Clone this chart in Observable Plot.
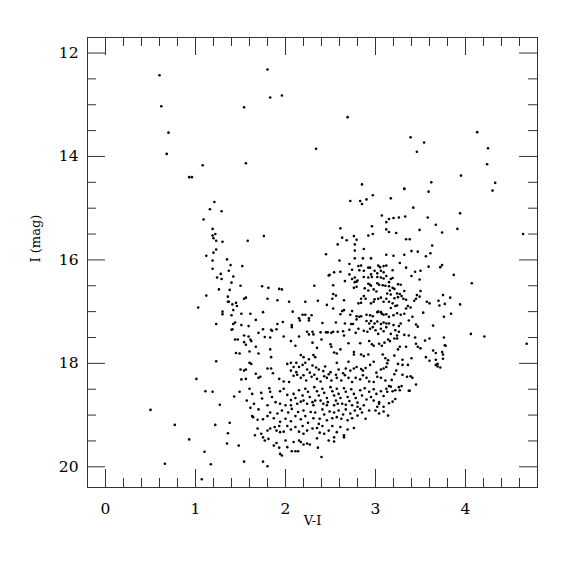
<!DOCTYPE html>
<html><head><meta charset="utf-8">
<script src="https://cdn.jsdelivr.net/npm/d3@7"></script>
<script src="https://cdn.jsdelivr.net/npm/@observablehq/plot@0.6"></script>
<style>body{margin:0;background:#fff}</style>
</head><body><div id="chart"></div>
<script>
// [V-I, I] pairs
const brightStars = [
[0.60,12.43],[0.62,13.03],[0.70,13.54],[0.68,13.95],[1.08,14.17],[0.93,14.40],[0.96,14.40],
[1.80,12.32],[1.83,12.86],[1.96,12.82],[1.54,13.05],[2.69,13.24],[2.34,13.85],[1.56,14.13],[2.85,14.54],
[3.39,13.63],[3.54,13.73],[3.46,13.91],[4.13,13.53],[4.25,13.84],[4.24,14.15],[3.95,14.37],[3.62,14.50],[4.33,14.51],[3.32,14.62]
];
const bluePlume = [
[1.21,14.88],[1.16,15.02],[1.29,15.06],[1.09,15.22],[1.19,15.40],[1.19,15.53],[1.22,15.50],[1.20,15.58],[1.23,15.63],[1.30,15.65],
[1.23,15.80],[1.20,15.86],[1.12,15.92],[1.19,16.01],[1.35,15.99],[1.39,16.10],[1.19,16.17],[1.37,16.21],[1.28,16.27],[1.42,16.32],
[1.24,16.34],[1.29,16.37],[1.40,16.44],[1.26,16.57],[1.38,16.58],[1.12,16.69],[1.36,16.71],[1.36,16.81],[1.37,16.81],[1.45,16.83],
[1.41,16.86],[1.03,16.92],[1.42,16.97],[1.30,17.00],[1.30,17.05],[1.40,17.07],[1.23,17.24],[1.42,17.24],[1.44,17.21],[1.40,17.35],[1.41,17.34],
[1.44,17.54],[1.45,17.80],[1.23,17.96],[1.01,18.30],[1.11,18.54],[1.19,18.55],[1.43,18.64],[1.27,18.80],[0.50,18.90],[0.77,19.19],
[1.22,19.19],[1.38,19.15],[1.36,19.35],[0.93,19.47],[1.35,19.55],[1.10,19.71],[0.66,19.94],[1.17,19.95],[1.07,20.24]
];
const giantStars = [
[2.97,14.75],[2.90,14.83],[2.72,14.86],[2.83,14.86],[2.85,14.92],[3.07,15.14],[3.12,15.27],[2.96,15.35],[3.12,15.41],[2.61,15.39],
[2.97,15.50],[2.92,15.53],[1.76,15.54],[1.58,15.63],[2.63,15.57],[2.76,15.54],[2.79,15.61],[2.68,15.62],[2.77,15.70],[2.58,15.70],
[2.77,15.82],[2.45,15.89],[2.87,15.79],[3.12,15.90],[2.60,16.01],[2.86,15.97],[2.95,15.97],[2.77,15.97],[2.71,16.08],[1.52,16.12],
[2.81,16.12],[2.84,16.11],[2.92,16.15],[2.94,16.15],[3.03,16.11],[3.05,16.14],[3.09,16.12],[3.12,16.11],[2.61,16.23],[2.74,16.19],
[2.82,16.20],[2.87,16.21],[2.99,16.21],[3.02,16.26],[3.06,16.21],[3.09,16.24],[2.48,16.30],[2.49,16.29],[2.54,16.24],[2.71,16.28],
[2.77,16.34],[2.74,16.37],[2.80,16.40],[2.77,16.43],[2.79,16.42],[2.87,16.33],[2.92,16.34],[2.95,16.28],[2.96,16.33],[3.02,16.33],
[3.06,16.34],[3.09,16.36],[3.12,16.31],[2.66,16.41],[2.53,16.49],[2.92,16.46],[2.94,16.48],[2.95,16.50],[3.02,16.45],[3.04,16.48],
[3.08,16.49],[3.11,16.50],[1.50,16.50],[1.74,16.51],[1.81,16.54],[1.93,16.56],[1.96,16.57],[2.32,16.50],[2.76,16.54],[2.79,16.52],
[2.88,16.55],[2.92,16.59],[2.98,16.57],[3.01,16.61],[2.53,16.66],[2.56,16.69],[1.56,16.73],[1.54,16.75],[1.80,16.75],[1.91,16.78],
[2.04,16.81],[2.22,16.81],[2.36,16.79],[2.52,16.75],[2.65,16.78],[2.84,16.75],[2.87,16.70],[2.89,16.75],[2.81,16.84],[2.84,16.83],
[2.95,16.84],[2.98,16.81],[2.99,16.76],[3.03,16.75],[3.06,16.73],[3.09,16.81],[3.12,16.75],[2.46,16.87],[1.46,16.89],[2.53,16.94],
[2.08,17.00],[2.63,16.99],[2.65,16.97],[2.74,16.99],[1.51,17.04],[1.61,17.04],[1.75,17.01],[2.19,17.06],[2.22,17.06],[2.29,17.07],
[2.61,17.05],[2.72,17.06],[2.79,17.09],[2.84,17.09],[2.90,17.06],[2.94,17.07],[2.97,17.09],[3.02,17.01],[3.03,17.00],[3.06,17.01],
[3.07,17.04],[3.09,17.06],[3.12,17.05],[1.67,17.16],[2.15,17.13],[2.16,17.17],[2.26,17.13],[2.26,17.17],[2.41,17.22],[2.56,17.21],
[2.66,17.23],[2.73,17.24],[2.75,17.24],[2.79,17.15],[2.82,17.10],[2.90,17.18],[2.93,17.23],[2.95,17.18],[2.99,17.23],[3.02,17.19],
[3.06,17.24],[3.09,17.21],[3.12,17.23],[1.51,17.26],[1.59,17.28],[1.91,17.24],[1.97,17.20],[1.75,17.34],[1.70,17.41],[1.84,17.35],
[1.85,17.37],[1.90,17.34],[2.07,17.26],[2.07,17.30],[2.24,17.39],[2.26,17.44],[2.30,17.39],[2.31,17.44],[2.39,17.40],[2.45,17.40],
[2.47,17.40],[2.51,17.41],[2.53,17.39],[2.58,17.39],[2.64,17.38],[2.65,17.46],[2.71,17.35],[2.78,17.41],[2.81,17.33],[2.87,17.37],
[2.91,17.39],[2.94,17.33],[2.97,17.30],[3.00,17.36],[3.03,17.43],[3.06,17.33],[3.09,17.38],[3.12,17.30],[1.54,17.46],[1.59,17.48],
[1.77,17.49],[1.83,17.50],[1.98,17.48],[2.15,17.48]
];
const redStars = [
[3.32,14.63],[3.59,14.68],[4.30,14.66],[3.17,14.81],[3.42,14.99],[3.94,15.10],[3.15,15.21],[3.20,15.19],[3.26,15.18],[3.33,15.16],
[3.58,15.18],[3.67,15.32],[3.49,15.42],[3.91,15.40],[3.74,15.47],[3.15,15.46],[3.23,15.48],[4.64,15.50],[3.34,15.60],[3.38,15.60],
[3.63,15.72],[3.40,15.83],[3.47,15.84],[3.61,15.87],[3.20,15.92],[3.32,15.90],[3.56,15.93],[3.27,16.06],[3.74,16.10],[3.72,16.14],
[3.34,16.15],[3.59,16.13],[3.19,16.20],[3.44,16.23],[3.50,16.21],[3.40,16.31],[3.87,16.29],[3.19,16.35],[3.17,16.37],[3.15,16.43],
[3.49,16.38],[4.07,16.45],[3.25,16.47],[3.28,16.48],[3.15,16.51],[3.19,16.54],[3.21,16.56],[3.16,16.59],[3.32,16.60],[3.50,16.60],
[3.13,16.65],[3.17,16.67],[3.24,16.65],[3.27,16.66],[3.25,16.72],[3.21,16.74],[3.29,16.70],[3.31,16.75],[3.46,16.68],[3.49,16.71],
[3.45,16.75],[3.75,16.68],[3.83,16.73],[3.70,16.79],[3.71,16.88],[3.77,16.85],[3.94,16.86],[3.57,16.81],[3.60,16.84],[3.36,16.89],
[3.39,16.92],[3.34,16.94],[3.43,16.79],[3.34,16.77],[3.15,16.81],[3.19,16.84],[3.22,16.89],[3.17,16.93],[3.24,16.88],[3.53,17.02],
[3.84,17.04],[3.76,17.10],[3.41,17.10],[3.37,17.17],[3.32,17.04],[3.28,17.06],[3.24,17.03],[3.20,17.07],[3.15,17.10],[3.64,17.27],
[3.45,17.25],[3.47,17.29],[4.06,17.43],[4.21,17.48],[3.76,17.50],[3.44,17.50],[3.15,17.23],[3.20,17.26],[3.26,17.28],[3.28,17.23],
[3.22,17.36],[3.26,17.39],[3.17,17.43],[3.24,17.46],[3.32,17.45],[3.37,17.46],
[4.68,17.62],[3.14,17.54],[3.16,17.57],[3.21,17.52],[3.24,17.52],[3.27,17.68],[3.34,17.68],[3.55,17.56],[3.60,17.52],[3.45,17.62],
[3.47,17.68],[3.50,17.71],[3.25,17.73],[3.64,17.75],[3.77,17.65],[3.78,17.66],[3.67,17.80],[3.74,17.78],[3.75,17.83],[3.75,17.91],
[3.21,17.85],[3.14,17.94],[3.13,18.00],[3.30,17.93],[3.40,17.90],[3.56,17.88],[3.60,17.95],[3.67,17.93],[3.69,18.01],[3.67,18.03],
[3.72,18.08],[3.69,18.06],[3.25,18.01],[3.30,18.03],[3.36,18.03],[3.23,18.14],[3.21,18.21],[3.30,18.22],[3.35,18.26],[3.39,18.25],
[3.41,18.28],[3.18,18.32],[3.45,18.41],[3.15,18.44],[3.17,18.45],[3.26,18.46],[3.29,18.44],[3.22,18.52],[3.27,18.52],[3.19,18.54],
[3.13,18.55],[3.37,18.53],[3.38,18.53],[3.22,18.69],[3.19,18.74],[3.15,18.77],[3.14,19.01]
];
const mainSequence = [
[1.47,17.54],[1.54,17.59],[1.56,17.64],[1.61,17.54],[1.62,17.57],[1.67,17.68],[1.49,17.81],[1.60,17.77],[1.70,17.81],[1.83,17.73],
[1.84,17.88],[2.06,17.57],[2.11,17.66],[2.17,17.84],[2.20,17.88],[2.30,17.60],[2.35,17.70],[2.40,17.54],[2.50,17.63],[2.51,17.68],
[2.54,17.79],[2.57,17.81],[2.61,17.73],[2.70,17.61],[2.76,17.78],[2.76,17.83],[2.83,17.61],[2.84,17.83],[2.87,17.86],[2.92,17.83],
[2.93,17.57],[2.96,17.63],[2.98,17.66],[3.04,17.62],[3.07,17.66],[3.10,17.60],[3.08,17.83],[3.11,17.90],[2.12,17.99],[2.06,17.99],
[2.31,17.84],[2.33,17.88],[2.26,17.92],
[1.60,17.99],[1.62,18.01],[1.50,18.12],[1.54,18.14],[1.56,18.12],[1.67,18.20],[1.70,18.28],[1.80,18.10],[1.84,18.10],[1.86,18.19],
[2.02,18.01],[2.06,18.14],[2.09,18.07],[2.12,18.17],[2.15,18.07],[2.19,18.03],[2.22,17.99],[2.24,18.12],[2.27,18.18],[2.30,18.04],
[2.34,18.08],[2.37,18.12],[2.42,18.15],[2.44,18.06],[2.48,18.21],[2.50,18.17],[2.57,17.99],[2.59,18.12],[2.64,18.19],[2.67,18.10],
[2.70,17.97],[2.72,18.14],[2.76,18.10],[2.79,18.07],[2.84,18.11],[2.86,18.14],[2.89,18.09],[2.94,18.03],[2.98,17.97],[3.01,18.18],
[3.06,18.12],[3.09,18.10],[3.12,18.07],[1.51,18.31],[1.56,18.30],[1.72,18.26],[1.93,18.30],[1.98,18.35],[2.04,18.36],[2.09,18.24],
[2.13,18.22],[2.17,18.28],[2.20,18.23],[2.23,18.33],[2.29,18.26],[2.32,18.22],[2.35,18.30],[2.39,18.35],[2.43,18.25],[2.46,18.28],
[2.51,18.33],[2.56,18.22],[2.57,18.28],[2.62,18.33],[2.66,18.23],[2.70,18.28],[2.74,18.36],[2.78,18.28],[2.83,18.31],[2.86,18.23],
[2.90,18.28],[2.93,18.35],[2.98,18.36],[3.02,18.26],[3.06,18.28],[3.11,18.33],
[1.49,18.55],[1.60,18.49],[1.63,18.59],[1.73,18.57],[1.82,18.48],[1.83,18.55],[1.85,18.65],[1.94,18.54],[1.98,18.49],[2.02,18.61],
[2.06,18.71],[2.09,18.59],[2.11,18.67],[2.15,18.52],[2.19,18.62],[2.20,18.72],[2.22,18.49],[2.25,18.55],[2.27,18.65],[2.30,18.75],
[2.32,18.46],[2.35,18.54],[2.37,18.62],[2.39,18.72],[2.41,18.49],[2.43,18.57],[2.46,18.67],[2.47,18.75],[2.50,18.46],[2.52,18.54],
[2.54,18.62],[2.56,18.72],[2.57,18.49],[2.59,18.59],[2.61,18.67],[2.63,18.78],[2.65,18.48],[2.67,18.55],[2.69,18.65],[2.71,18.73],
[2.73,18.50],[2.76,18.59],[2.78,18.67],[2.80,18.76],[2.83,18.52],[2.85,18.62],[2.88,18.48],[2.90,18.70],[2.93,18.55],[2.95,18.65],
[2.98,18.50],[3.01,18.59],[3.04,18.75],[3.06,18.54],[3.09,18.63],[3.12,18.49],[1.57,18.72],[1.65,18.78],[1.74,18.68],[1.80,18.81],
[1.89,18.75],[1.94,18.78],[2.00,18.81],[2.06,18.81],[2.13,18.78],[2.17,18.74],[2.24,18.78],[2.31,18.81],[2.33,18.72],[2.42,18.78],
[2.46,18.81],[2.54,18.81],[2.58,18.78],[2.67,18.80],[2.74,18.81],[2.80,18.84],[2.87,18.81],[2.98,18.72],[3.04,18.78],[3.09,18.84],
[1.61,18.86],[1.70,18.89],[1.63,19.02],[1.64,19.04],[1.69,19.09],[1.75,19.08],[1.80,19.02],[1.83,18.95],[1.87,19.06],[1.91,18.97],
[1.94,19.13],[1.96,18.91],[2.00,19.07],[2.03,18.95],[2.06,19.12],[2.07,18.88],[2.11,19.02],[2.14,18.94],[2.17,19.08],[2.20,18.91],
[2.22,19.02],[2.25,19.15],[2.28,18.94],[2.31,19.06],[2.33,18.95],[2.37,19.17],[2.38,19.07],[2.41,18.89],[2.43,18.99],[2.46,19.10],
[2.49,18.93],[2.52,19.06],[2.54,18.95],[2.57,19.04],[2.59,18.91],[2.62,19.07],[2.64,18.99],[2.67,18.89],[2.69,19.10],[2.72,18.97],
[2.74,19.06],[2.77,18.91],[2.80,19.01],[2.83,18.88],[2.85,18.95],[2.89,19.07],[2.93,18.91],[3.00,18.91],[3.04,18.97],[3.09,18.93],
[3.02,18.84],
[1.69,19.26],[1.73,19.36],[1.75,19.43],[1.80,19.30],[1.83,19.26],[1.88,19.23],[1.90,19.30],[1.93,19.21],[1.94,19.33],[1.98,19.32],
[2.02,19.21],[2.06,19.28],[2.11,19.23],[2.15,19.32],[2.19,19.21],[2.20,19.36],[2.24,19.30],[2.30,19.26],[2.35,19.25],[2.38,19.34],
[2.41,19.21],[2.43,19.36],[2.48,19.30],[2.52,19.21],[2.54,19.43],[2.57,19.33],[2.61,19.23],[2.65,19.39],[2.69,19.28],[2.76,19.25],
[1.66,19.39],[1.77,19.49],[1.81,19.46],[1.87,19.59],[1.90,19.54],[1.93,19.63],[2.00,19.49],[2.02,19.62],[2.09,19.52],[2.15,19.49],
[2.17,19.52],[2.20,19.57],[2.24,19.55],[2.27,19.57],[2.35,19.45],[2.36,19.63],[2.48,19.49],[2.54,19.51],[2.65,19.43],
[1.48,19.59],[1.94,19.75],[1.96,19.78],[2.07,19.70],[2.11,19.70],[2.14,19.70],[2.40,19.81],[1.54,19.90],[1.75,19.90],[1.80,19.99]
];
const xMajor = [0, 1, 2, 3, 4];
const xMinor = [0.2,0.4,0.6,0.8,1.2,1.4,1.6,1.8,2.2,2.4,2.6,2.8,3.2,3.4,3.6,3.8,4.2,4.4,4.6];
const yMajor = [12, 14, 16, 18, 20];
const yMinor = [12.5,13,13.5,14.5,15,15.5,16.5,17,17.5,18.5,19,19.5];
const xTitle = "V-I";
const yTitle = "I (mag)";

const stars = [...brightStars, ...bluePlume, ...giantStars, ...redStars, ...mainSequence];

const W = 575, H = 575, mL = 87, mR = 38, mT = 37, mB = 88;
const fw = W - mL - mR, fh = H - mT - mB;
const major = 18, minor = 9, tickColor = "#333";

const chart = Plot.plot({
  width: W, height: H,
  marginLeft: mL, marginRight: mR, marginTop: mT, marginBottom: mB,
  style: {fontFamily: "'DejaVu Serif', serif", fontSize: "15px", color: "#000", background: "#fff"},
  x: {domain: [-0.2, 4.8]},
  y: {domain: [11.7, 20.4], reverse: true},
  marks: [
    Plot.tickX(xMajor, {x: d => d, insetTop: fh - major, stroke: tickColor}),
    Plot.tickX(xMajor, {x: d => d, insetBottom: fh - major, stroke: tickColor}),
    Plot.tickX(xMinor, {x: d => d, insetTop: fh - minor, stroke: tickColor}),
    Plot.tickX(xMinor, {x: d => d, insetBottom: fh - minor, stroke: tickColor}),
    Plot.tickY(yMajor, {y: d => d, insetRight: fw - major, stroke: tickColor}),
    Plot.tickY(yMajor, {y: d => d, insetLeft: fw - major, stroke: tickColor}),
    Plot.tickY(yMinor, {y: d => d, insetRight: fw - minor, stroke: tickColor}),
    Plot.tickY(yMinor, {y: d => d, insetLeft: fw - minor, stroke: tickColor}),
    Plot.axisX({ticks: xMajor, tickSize: 0, tickPadding: 15, label: null, fontSize: 15.5, tickFormat: d => String(d)}),
    Plot.axisY({ticks: yMajor, tickSize: 0, tickPadding: 9, label: null, fontSize: 15.5, tickFormat: d => String(d)}),
    Plot.frame({stroke: tickColor}),
    Plot.dot(stars, {x: d => d[0], y: d => d[1], r: 1.3, fill: "#000", stroke: null}),
    Plot.text([xTitle], {frameAnchor: "bottom", dy: 37, fontSize: 13, text: d => d}),
    Plot.text([yTitle], {frameAnchor: "left", dx: -52, rotate: -90, fontSize: 13, text: d => d})
  ]
});
document.getElementById("chart").appendChild(chart);
</script>
</body></html>
